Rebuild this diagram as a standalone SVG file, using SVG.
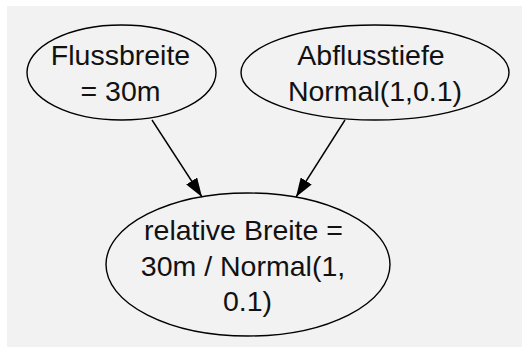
<svg xmlns="http://www.w3.org/2000/svg" width="528" height="356" viewBox="0 0 528 356">
  <style>
    .node ellipse { fill: none; stroke: #000; stroke-width: 1.4; }
    .node text { font-family: "Liberation Sans", Arial, sans-serif; font-size: 28.5px; fill: #111; text-anchor: middle; }
    .edge { fill: none; stroke: #000; stroke-width: 1.4; marker-end: url(#arrow); }
  </style>
  <defs>
    <marker id="arrow" viewBox="0 0 19 13" refX="19" refY="6.5" markerWidth="19" markerHeight="13" markerUnits="userSpaceOnUse" orient="auto">
      <path d="M0,0 L19,6.5 L0,13 z" fill="#000"/>
    </marker>
  </defs>

  <rect x="0" y="0" width="528" height="356" fill="#ffffff"/>
  <rect x="7" y="6" width="515" height="341" fill="#f2f2f2"/>

  <g id="connectors">
    <path class="edge" d="M152,120 L202,197"/>
    <path class="edge" d="M345,120 L296,197"/>
  </g>

  <g id="flussbreite" class="node">
    <ellipse cx="121.5" cy="72.5" rx="94.5" ry="47.5"/>
    <text x="120.5" y="65">Flussbreite</text>
    <text x="120.5" y="100.5">= 30m</text>
  </g>

  <g id="abflusstiefe" class="node">
    <ellipse cx="375" cy="72.5" rx="134" ry="47.5"/>
    <text x="371" y="65">Abflusstiefe</text>
    <text x="375" y="100.5">Normal(1,0.1)</text>
  </g>

  <g id="relative-breite" class="node">
    <ellipse cx="248" cy="264.5" rx="142" ry="71.5"/>
    <text x="243.5" y="240">relative Breite =</text>
    <text x="243" y="275.5">30m / Normal(1,</text>
    <text x="247.5" y="311">0.1)</text>
  </g>
</svg>
